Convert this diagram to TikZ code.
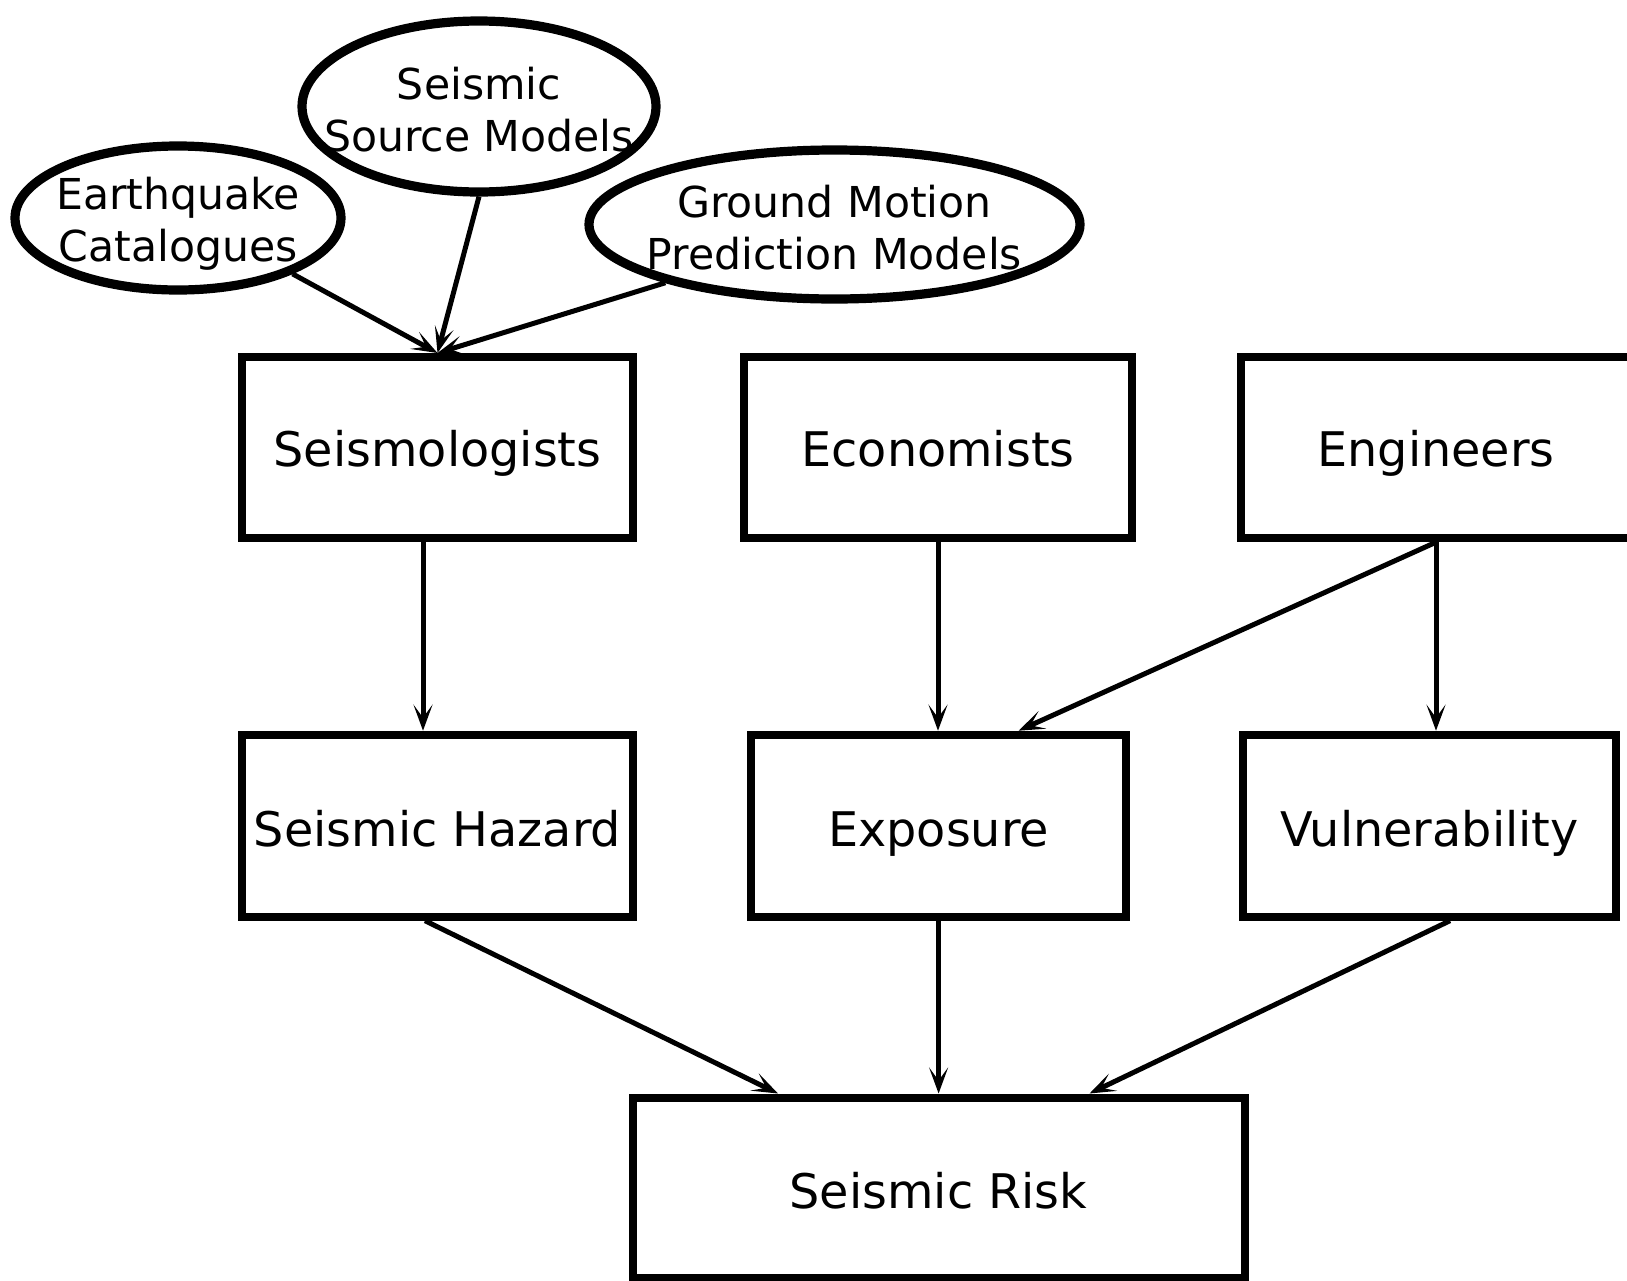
\documentclass[tikz,border=0pt]{standalone}
\usepackage{fontspec}
\setmainfont{DejaVu Sans}
\usetikzlibrary{shapes.geometric,arrows.meta}
\begin{document}
\begin{tikzpicture}[x=0.5pt,y=-0.5pt,
  box/.style={draw, line width=4pt, inner sep=0pt, text depth=0pt, font=\fontsize{23.85}{28}\selectfont},
  ell/.style={draw, ellipse, line width=4.6pt, inner sep=0pt},
  lbl/.style={align=center, font=\fontsize{21.3}{26}\selectfont},
  arr/.style={-{Stealth[length=13pt,width=9.5pt,inset=6.5pt]}, line width=2.5pt}]
\useasboundingbox (0,0) rectangle (1627,1280);

\node[box, text height=19pt, minimum width=195.2pt, minimum height=90.6pt] (seis) at (437.5,447.6) {Seismologists};
\node[box, text height=19pt, minimum width=194pt, minimum height=90.6pt] (econ) at (938,447.6) {Economists};
\node[box, text height=19pt, minimum width=195pt, minimum height=90.6pt] (eng) at (1436,447.6) {Engineers};
\node[box, text height=20.3pt, minimum width=195.2pt, minimum height=91pt] (hazard) at (437.5,825.7) {Seismic Hazard};
\node[box, text height=20.3pt, minimum width=187.3pt, minimum height=91pt] (expo) at (938.6,825.7) {Exposure};
\node[box, text height=20.3pt, minimum width=186.5pt, minimum height=91pt] (vuln) at (1429.5,825.7) {Vulnerability};
\node[box, text height=20.5pt, minimum width=306pt, minimum height=90pt] (risk) at (938.5,1187.5) {Seismic Risk};

\node[ell, minimum width=163pt, minimum height=72pt,
  label={[lbl,yshift=-3pt]center:Earthquake\\Catalogues}] (eq) at (178,218) {};
\node[ell, minimum width=177pt, minimum height=85.5pt,
  label={[lbl,yshift=-1.5pt]center:Seismic\\Source Models}] (src) at (479,106.5) {};
\node[ell, minimum width=245.5pt, minimum height=74.5pt,
  label={[lbl,yshift=-1.5pt]center:Ground Motion\\Prediction Models}] (gm) at (834.5,224.5) {};

\draw[arr] (eq.-26) -- (seis.north);
\draw[arr] (src.south) -- (seis.north);
\draw[arr] (gm.199) -- (seis.north);
\draw[arr] ([xshift=-7.25pt]seis.south) -- ([xshift=-7.25pt]hazard.north);
\draw[arr] (econ.south) -- (econ.south |- expo.north);
\draw[arr] (eng.south) -- ([xshift=40pt]expo.north);
\draw[arr] (eng.south) -- (eng.south |- vuln.north);
\draw[arr] ([xshift=-6.25pt]hazard.south) -- ([xshift=-80.25pt]risk.north);
\draw[arr] (expo.south) -- (expo.south |- risk.north);
\draw[arr] ([xshift=10.25pt]vuln.south) -- ([xshift=75.5pt]risk.north);
\end{tikzpicture}
\end{document}
